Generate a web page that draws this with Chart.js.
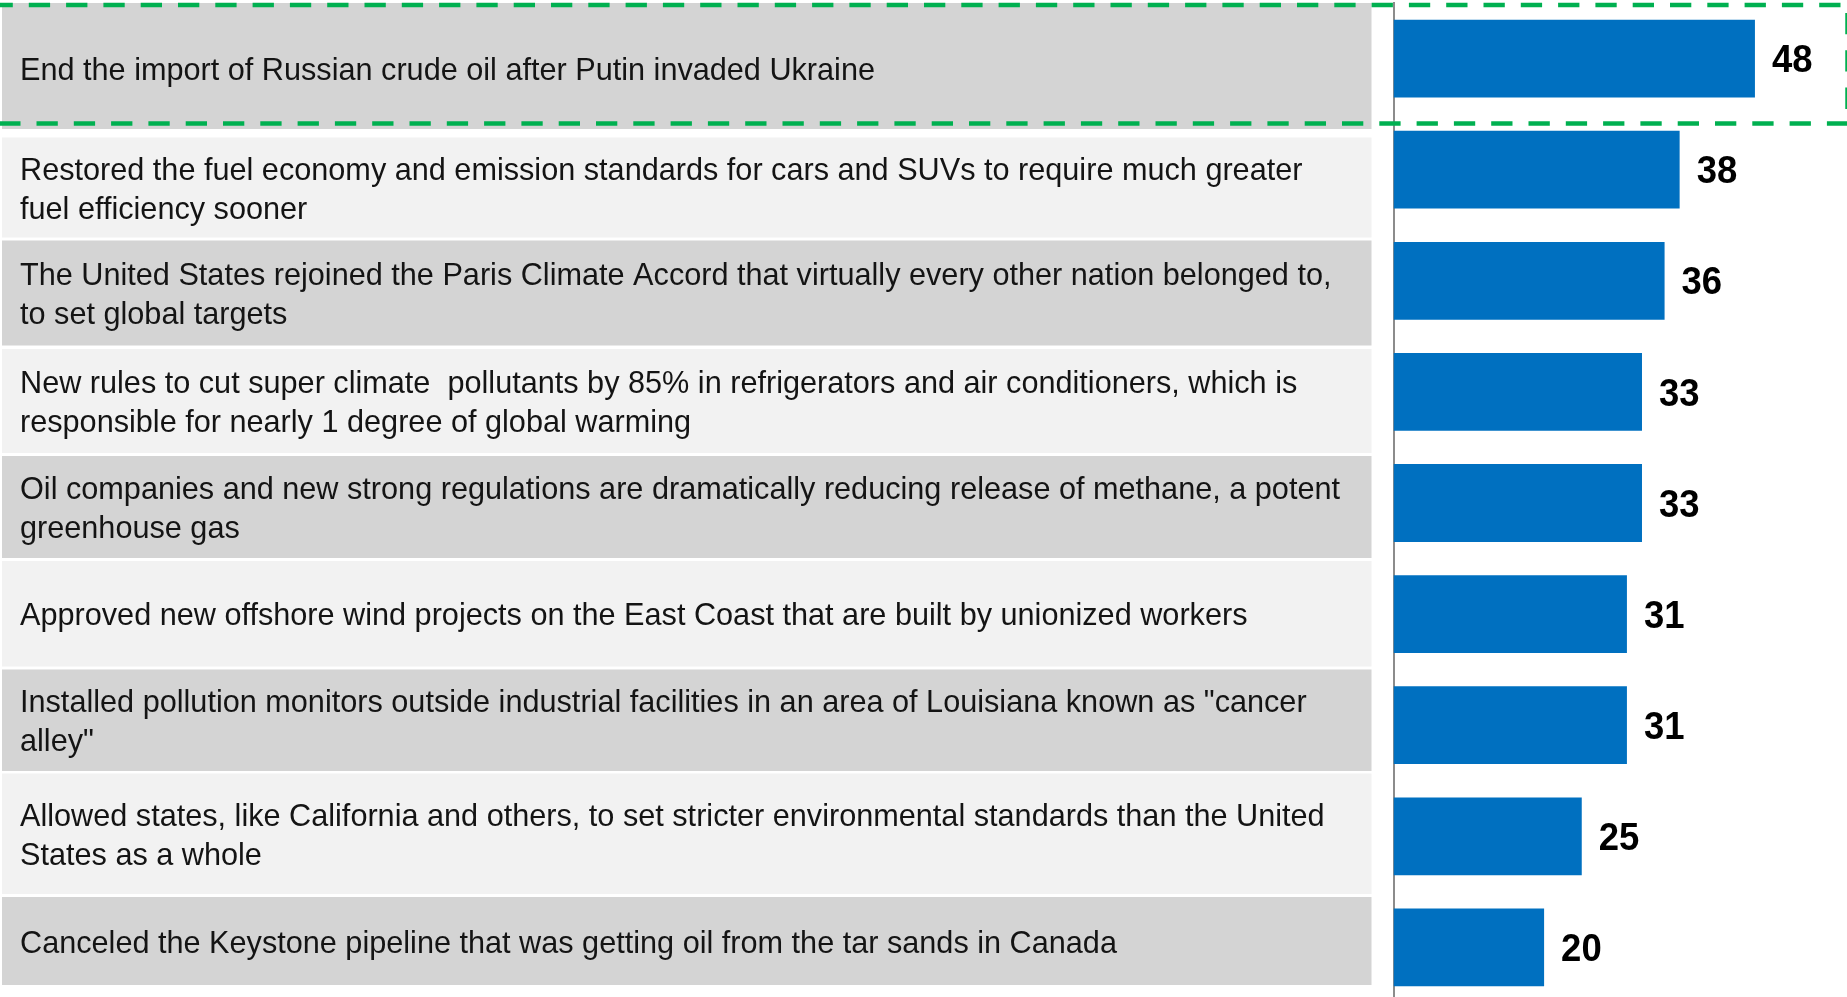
<!DOCTYPE html>
<html>
<head>
<meta charset="utf-8">
<title>Climate policy support</title>
<script src="https://cdn.jsdelivr.net/npm/chart.js@4.4.1/dist/chart.umd.min.js"></script>
<style>
  html, body { margin: 0; padding: 0; background: #fff; overflow: hidden; }
  #wrap { position: relative; width: 1847px; height: 1010px; }
</style>
</head>
<body>
<div id="wrap"><canvas id="policyChart"></canvas></div>
<script>
// Statements, split the way they wrap in the table
const statements = [
  ["End the import of Russian crude oil after Putin invaded Ukraine"],
  ["Restored the fuel economy and emission standards for cars and SUVs to require much greater",
   "fuel efficiency sooner"],
  ["The United States rejoined the Paris Climate Accord that virtually every other nation belonged to,",
   "to set global targets"],
  ["New rules to cut super climate  pollutants by 85% in refrigerators and air conditioners, which is",
   "responsible for nearly 1 degree of global warming"],
  ["Oil companies and new strong regulations are dramatically reducing release of methane, a potent",
   "greenhouse gas"],
  ["Approved new offshore wind projects on the East Coast that are built by unionized workers"],
  ["Installed pollution monitors outside industrial facilities in an area of Louisiana known as \"cancer",
   "alley\""],
  ["Allowed states, like California and others, to set stricter environmental standards than the United",
   "States as a whole"],
  ["Canceled the Keystone pipeline that was getting oil from the tar sands in Canada"]
];
const scores = [48, 38, 36, 33, 33, 31, 31, 25, 20];
const scoreMax = 50;

// Table row bands behind the statements (top, bottom in px)
const rowBands = [
  [3, 129], [137.5, 237.5], [240.5, 345.5], [349, 453], [456, 558],
  [561, 666.5], [669.5, 771], [773.5, 894], [897, 985]
];
const rowColors = ["#d4d4d4", "#f2f2f2"];
const rowLeft = 2;
const rowRight = 1371.5;

const fontFamily = "'Liberation Sans', Arial, Helvetica, sans-serif";
const labelFont = "32px " + fontFamily;
const valueFont = "bold 38px " + fontFamily;
const green = "#00b050";

// ------------------ table rows + statement text ------------------
const tablePlugin = {
  id: "tableRows",
  beforeDatasetsDraw(chart) {
    const ctx = chart.ctx;
    ctx.save();
    ctx.font = labelFont;
    // squeeze text a little, the source font runs narrower than Arial
    const hs = 855 / ctx.measureText(statements[0][0]).width;

    rowBands.forEach((band, i) => {
      ctx.fillStyle = rowColors[i % 2];
      ctx.fillRect(rowLeft, band[0], rowRight - rowLeft, band[1] - band[0]);

      const lines = statements[i];
      const mid = (band[0] + band[1]) / 2 + (i === 0 ? 2.5 : 0);
      ctx.fillStyle = "#141414";
      ctx.textBaseline = "alphabetic";
      lines.forEach((line, k) => {
        const y = mid + 11.5 + (k - (lines.length - 1) / 2) * 39;
        ctx.save();
        ctx.translate(20, y);
        ctx.scale(hs, 1);
        ctx.fillText(line, 0, 0);
        ctx.restore();
      });
    });
    ctx.restore();
  },

  afterDatasetsDraw(chart) {
    const ctx = chart.ctx;
    const bars = chart.getDatasetMeta(0).data;
    ctx.save();
    ctx.font = valueFont;
    ctx.fillStyle = "#000";
    ctx.textBaseline = "alphabetic";
    bars.forEach((bar, i) => {
      ctx.save();
      ctx.translate(bar.x + 17, bar.y + 13.7);
      ctx.scale(0.96, 1);
      ctx.fillText(String(scores[i]), 0, 0);
      ctx.restore();
    });
    ctx.restore();
  },

  afterDraw(chart) {
    // green dashed highlight round the top item
    const ctx = chart.ctx;
    ctx.save();
    ctx.strokeStyle = green;
    ctx.lineWidth = 4.5;
    ctx.setLineDash([21.3, 16]);
    const line = (x1, y1, x2, y2) => {
      ctx.beginPath();
      ctx.moveTo(x1, y1);
      ctx.lineTo(x2, y2);
      ctx.stroke();
    };
    line(-8.5, 5, 1850, 5);
    line(-0.8, 123.4, 1850, 123.4);
    line(1847.5, 13, 1847.5, 123.4);
    ctx.restore();
  }
};

new Chart(document.getElementById("policyChart"), {
  type: "bar",
  data: {
    labels: statements,
    datasets: [{
      data: scores,
      backgroundColor: "#0070c0",
      barPercentage: 0.7,
      categoryPercentage: 1
    }]
  },
  options: {
    indexAxis: "y",
    responsive: true,
    maintainAspectRatio: false,
    animation: false,
    layout: { padding: { left: 1385.5, right: 77, top: 3, bottom: 7 } },
    plugins: {
      legend: { display: false },
      tooltip: { enabled: false }
    },
    scales: {
      x: { display: false, min: 0, max: scoreMax },
      y: {
        grid: { display: false },
        ticks: { display: false },
        border: { display: true, color: "#8c8c8c", width: 2 }
      }
    }
  },
  plugins: [tablePlugin]
});
</script>
</body>
</html>
